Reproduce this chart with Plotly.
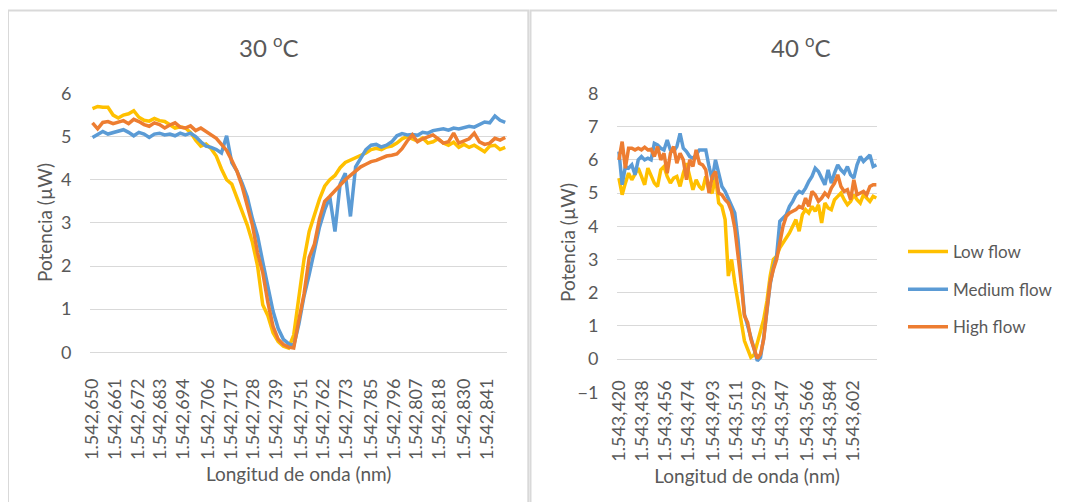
import plotly.graph_objects as go

# ---------------- data ----------------
wl_30 = [1542.6500, 1542.6525, 1542.6550, 1542.6575, 1542.6600, 1542.6625, 1542.6650, 1542.6675, 1542.6700,
         1542.6725, 1542.6750, 1542.6775, 1542.6800, 1542.6825, 1542.6850, 1542.6875, 1542.6900, 1542.6925,
         1542.6950, 1542.6975, 1542.7000, 1542.7025, 1542.7050, 1542.7075, 1542.7100, 1542.7125, 1542.7150,
         1542.7175, 1542.7200, 1542.7225, 1542.7250, 1542.7275, 1542.7300, 1542.7325, 1542.7350, 1542.7375,
         1542.7400, 1542.7425, 1542.7450, 1542.7475, 1542.7500, 1542.7525, 1542.7550, 1542.7575, 1542.7600,
         1542.7625, 1542.7650, 1542.7675, 1542.7700, 1542.7725, 1542.7750, 1542.7775, 1542.7800, 1542.7825,
         1542.7850, 1542.7875, 1542.7900, 1542.7925, 1542.7950, 1542.7975, 1542.8000, 1542.8025, 1542.8050,
         1542.8075, 1542.8100, 1542.8125, 1542.8150, 1542.8175, 1542.8200, 1542.8225, 1542.8250, 1542.8275,
         1542.8300, 1542.8325, 1542.8350, 1542.8375, 1542.8400, 1542.8425, 1542.8450, 1542.8475, 1542.8500]

low_30 = [5.65, 5.70, 5.68, 5.68, 5.50, 5.43, 5.50, 5.53, 5.60, 5.45, 5.38, 5.36, 5.42, 5.37, 5.35, 5.28,
          5.20, 5.23, 5.20, 5.10, 4.92, 4.78, 4.83, 4.72, 4.55,
          4.25, 4.00, 3.90, 3.60, 3.30, 2.95, 2.55, 2.00, 1.10, 0.85, 0.45, 0.25, 0.14, 0.10,
          0.40, 1.30, 2.15, 2.80, 3.20, 3.55, 3.85, 4.00, 4.10, 4.28, 4.40, 4.45, 4.50, 4.55,
          4.62, 4.70, 4.73, 4.70, 4.76, 4.78, 4.85, 4.95, 5.00, 4.95, 4.90, 4.97, 4.85, 4.88,
          4.95, 4.85, 4.80, 4.87, 4.75, 4.82, 4.75, 4.80, 4.72, 4.65, 4.78, 4.80, 4.70, 4.75]

med_30 = [4.98, 5.05, 5.12, 5.06, 5.10, 5.14, 5.16, 5.10, 5.02, 5.10, 5.06, 4.98, 5.06, 5.08, 5.04, 5.06,
          5.02, 5.08, 5.04, 5.08, 5.00,
          4.88, 4.78, 4.75, 4.70, 4.62,
          5.02,
          4.40, 4.20, 3.92, 3.60, 3.10, 2.70, 2.10, 1.50, 0.95, 0.55, 0.30, 0.20, 0.15,
          0.65, 1.30, 1.80, 2.40, 2.90, 3.30, 3.60, 2.80, 3.90, 4.15, 3.15, 4.30,
          4.50, 4.70, 4.80, 4.82, 4.76, 4.80, 4.88, 5.02, 5.07, 5.04, 5.05, 5.03, 5.10, 5.08,
          5.14, 5.16, 5.18, 5.15, 5.20, 5.18, 5.22, 5.24, 5.22, 5.28, 5.34, 5.32, 5.48, 5.38, 5.33]

high_30 = [5.32, 5.18, 5.33, 5.35, 5.30, 5.33, 5.37, 5.30, 5.40, 5.35, 5.28, 5.24, 5.32, 5.28, 5.20, 5.27,
           5.32, 5.22, 5.20, 5.25,
           5.14, 5.20, 5.12, 5.05, 4.96, 4.82, 4.68, 4.45, 4.20, 3.85, 3.40, 2.95, 2.30, 1.85, 1.15, 0.60,
           0.30, 0.18, 0.12, 0.10, 0.75, 1.35, 2.20, 2.50, 3.10, 3.50, 3.62, 3.75, 3.88, 4.00, 4.10, 4.20, 4.30,
           4.36, 4.42, 4.45, 4.50, 4.55, 4.57, 4.60, 4.72, 4.90, 5.04, 4.88, 4.95, 5.00, 5.04, 4.95, 4.85,
           4.88, 5.08, 4.85, 4.90, 4.95, 5.08, 4.88, 4.82, 4.85, 4.96, 4.92, 4.98]

wl_40 = [1543.4200, 1543.4225, 1543.4250, 1543.4275, 1543.4300, 1543.4325, 1543.4350, 1543.4375, 1543.4400,
         1543.4425, 1543.4450, 1543.4475, 1543.4500, 1543.4525, 1543.4550, 1543.4575, 1543.4600, 1543.4625,
         1543.4650, 1543.4675, 1543.4700, 1543.4725, 1543.4750, 1543.4775, 1543.4800, 1543.4825, 1543.4850,
         1543.4875, 1543.4900, 1543.4925, 1543.4950, 1543.4975, 1543.5000, 1543.5025, 1543.5050, 1543.5075,
         1543.5100, 1543.5125, 1543.5150, 1543.5175, 1543.5200, 1543.5225, 1543.5250, 1543.5275, 1543.5300,
         1543.5325, 1543.5350, 1543.5375, 1543.5400, 1543.5425, 1543.5450, 1543.5475, 1543.5500, 1543.5525,
         1543.5550, 1543.5575, 1543.5600, 1543.5625, 1543.5650, 1543.5675, 1543.5700, 1543.5725, 1543.5750,
         1543.5775, 1543.5800, 1543.5825, 1543.5850, 1543.5875, 1543.5900, 1543.5925, 1543.5950, 1543.5975,
         1543.6000, 1543.6025, 1543.6050, 1543.6075, 1543.6100, 1543.6125, 1543.6150, 1543.6175, 1543.6200]

low_40 = [5.45, 4.95, 5.30, 5.60, 5.40, 5.60, 5.75, 5.50, 5.25, 5.75, 5.50, 5.30, 5.20, 5.70, 5.80, 5.50,
          5.30, 5.45, 5.50, 5.20, 5.60, 5.90, 5.50, 5.10, 5.40, 5.20, 5.10, 5.50, 5.10, 5.00, 5.50, 4.70,
          4.60, 4.20, 2.50, 3.00, 2.30, 1.70, 1.00, 0.55, 0.30, 0.05, 0.12, 0.45, 0.80, 1.20, 1.75, 2.50,
          3.00, 3.10, 3.35, 3.50, 3.65, 3.80, 4.00, 4.20, 3.85, 4.35, 4.50, 4.40, 4.60, 4.45, 4.65, 4.10,
          4.70, 4.55, 4.50, 4.80, 4.90, 5.00, 4.80, 4.65, 4.75, 4.95, 4.80, 4.70, 4.95, 4.85, 4.75, 4.90, 4.85]

med_40 = [6.25, 5.25, 5.80, 5.75, 5.85, 5.55, 6.00, 6.10, 6.00, 6.05, 6.00, 6.50, 6.45, 6.35, 6.30, 6.60,
          6.30, 6.25, 6.40, 6.80, 6.35, 6.25, 6.10, 6.05, 6.15, 6.30, 6.30, 6.30, 5.80, 5.40, 6.00, 5.60,
          5.20, 5.05, 4.85, 4.65, 4.40, 3.60, 2.40, 1.35, 1.00, 0.60, 0.30, -0.05, 0.05, 0.65, 1.55, 2.25,
          2.75, 3.10, 4.15, 4.25, 4.35, 4.60, 4.75, 4.95, 5.05, 5.00, 5.15, 5.35, 5.50, 5.75, 5.65, 5.45,
          5.25, 5.70, 5.30, 5.60, 5.85, 5.70, 5.60, 5.80, 5.55, 5.45, 5.85, 6.10, 5.95, 6.05, 6.15, 5.80, 5.85]

high_40 = [6.00, 6.55, 5.75, 6.35, 6.35, 6.30, 6.35, 6.30, 6.38, 6.30, 6.32, 6.10, 6.40, 6.00, 6.20, 5.60,
           6.20, 6.40, 5.90, 6.20, 6.00, 5.40, 6.00, 5.80, 6.30, 5.90, 5.85, 5.70, 5.00, 5.50, 5.65, 5.00,
           4.95, 4.80, 4.70, 4.45, 3.95, 3.20, 2.30, 1.30, 1.10, 0.60, 0.30, 0.02, 0.15, 0.60, 1.50, 2.30,
           2.70, 3.00, 3.50, 4.00, 4.30, 4.40, 4.45, 4.50, 4.60, 4.55, 4.85, 4.60, 5.05, 4.95, 4.75, 4.85,
           5.00, 4.90, 5.15, 5.30, 5.55, 5.20, 5.05, 5.10, 4.80, 5.40, 4.95, 5.00, 5.05, 4.95, 5.20, 5.25, 5.25]

ticks_30 = ["1.542,650", "1.542,661", "1.542,672", "1.542,683", "1.542,694", "1.542,706", "1.542,717",
            "1.542,728", "1.542,739", "1.542,751", "1.542,762", "1.542,773", "1.542,785", "1.542,796",
            "1.542,807", "1.542,818", "1.542,830", "1.542,841"]
ticks_40 = ["1.543,420", "1.543,438", "1.543,456", "1.543,474", "1.543,493", "1.543,511", "1.543,529",
            "1.543,547", "1.543,566", "1.543,584", "1.543,602"]

series_names = ["Low flow", "Medium flow", "High flow"]
series_colors = ["#FFC000", "#5B9BD5", "#ED7D31"]
titles = ["30 <sup>o</sup>C", "40 <sup>o</sup>C"]
x_title = "Longitud de onda (nm)"
y_title = "Potencia (µW)"


def label_value(s):
    return float(s.replace(".", "").replace(",", "."))


# ---------------- figure ----------------
OX, OY = 8, 8                      # page offset of the plot div (body margin)
W, H = 1065 - OX, 502 - OY         # fill the window exactly, no scrollbars
TXT = "#595959"
GRID = "#D9D9D9"
FONT = "Lato"


def fx(p):
    return (p - OX) / W


def fy(p):
    return 1 - (p - OY) / H


fig = go.Figure()
for name, color, y30, y40 in zip(series_names, series_colors,
                                 [low_30, med_30, high_30], [low_40, med_40, high_40]):
    fig.add_trace(go.Scatter(x=wl_30, y=y30, xaxis="x", yaxis="y", mode="lines", name=name,
                             legendgroup=name, showlegend=True,
                             line=dict(color=color, width=3.5)))
    fig.add_trace(go.Scatter(x=wl_40, y=y40, xaxis="x2", yaxis="y2", mode="lines", name=name,
                             legendgroup=name, showlegend=False,
                             line=dict(color=color, width=3.5)))

xcommon = dict(tickmode="array", tickangle=-90, ticks="outside", automargin=False,
               tickcolor="rgba(0,0,0,0)", showgrid=False, zeroline=False, showline=False,
               tickfont=dict(size=18, color=TXT, family=FONT))
ycommon = dict(dtick=1, tick0=0, showgrid=True, gridcolor=GRID, gridwidth=1, automargin=False,
               zeroline=True, zerolinecolor=GRID, zerolinewidth=1, showline=False,
               ticks="outside", ticklen=14, tickcolor="rgba(0,0,0,0)",
               tickfont=dict(size=18, color=TXT, family=FONT))

annotations = [
    dict(text=titles[0], x=fx(269), y=fy(46), xref="paper", yref="paper",
         showarrow=False, xanchor="center", yanchor="middle",
         font=dict(size=24, color=TXT, family=FONT)),
    dict(text=titles[1], x=fx(801), y=fy(46), xref="paper", yref="paper",
         showarrow=False, xanchor="center", yanchor="middle",
         font=dict(size=24, color=TXT, family=FONT)),
    dict(text=y_title, x=fx(44), y=fy(223), xref="paper", yref="paper", textangle=-90,
         showarrow=False, xanchor="center", yanchor="middle",
         font=dict(size=19, color=TXT, family=FONT)),
    dict(text=y_title, x=fx(567), y=fy(243), xref="paper", yref="paper", textangle=-90,
         showarrow=False, xanchor="center", yanchor="middle",
         font=dict(size=19, color=TXT, family=FONT)),
]

fig.update_layout(
    width=W, height=H, margin=dict(l=0, r=0, t=0, b=0, autoexpand=False),
    paper_bgcolor="white", plot_bgcolor="white",
    font=dict(family=FONT, color=TXT),
    xaxis=dict(domain=[fx(90), fx(507.3)], range=[1542.6488, 1542.8510], anchor="y",
               tickvals=[label_value(t) for t in ticks_30], ticktext=ticks_30, ticklen=18,
               title=dict(text=x_title, font=dict(size=19, color=TXT), standoff=8),
               **xcommon),
    yaxis=dict(domain=[fy(352.3), fy(93.5)], range=[0, 6], anchor="x", **ycommon),
    xaxis2=dict(domain=[fx(617), fx(877)], range=[1543.4185, 1543.6205], anchor="free",
                position=fy(359.1), ticklen=13,
                tickvals=[label_value(t) for t in ticks_40], ticktext=ticks_40,
                title=dict(text=x_title, font=dict(size=19, color=TXT), standoff=8),
                **xcommon),
    yaxis2=dict(domain=[fy(392.2), fy(93.5)], range=[-1, 8], anchor="x2", **ycommon),
    legend=dict(x=fx(903), y=fy(234), xanchor="left", yanchor="top",
                font=dict(size=17, color=TXT, family=FONT), bgcolor="rgba(0,0,0,0)",
                tracegroupgap=12.5, itemwidth=40),
    annotations=annotations,
    shapes=[
        dict(type="rect", xref="paper", yref="paper", x0=fx(8), x1=fx(528.3), y0=-0.05, y1=fy(10.5),
             line=dict(color=GRID, width=2), fillcolor="rgba(0,0,0,0)", layer="below"),
        dict(type="rect", xref="paper", yref="paper", x0=fx(530.5), x1=1.05, y0=-0.05, y1=fy(10.5),
             line=dict(color=GRID, width=2), fillcolor="rgba(0,0,0,0)", layer="below"),
    ],
)

fig.write_html("out.html")
